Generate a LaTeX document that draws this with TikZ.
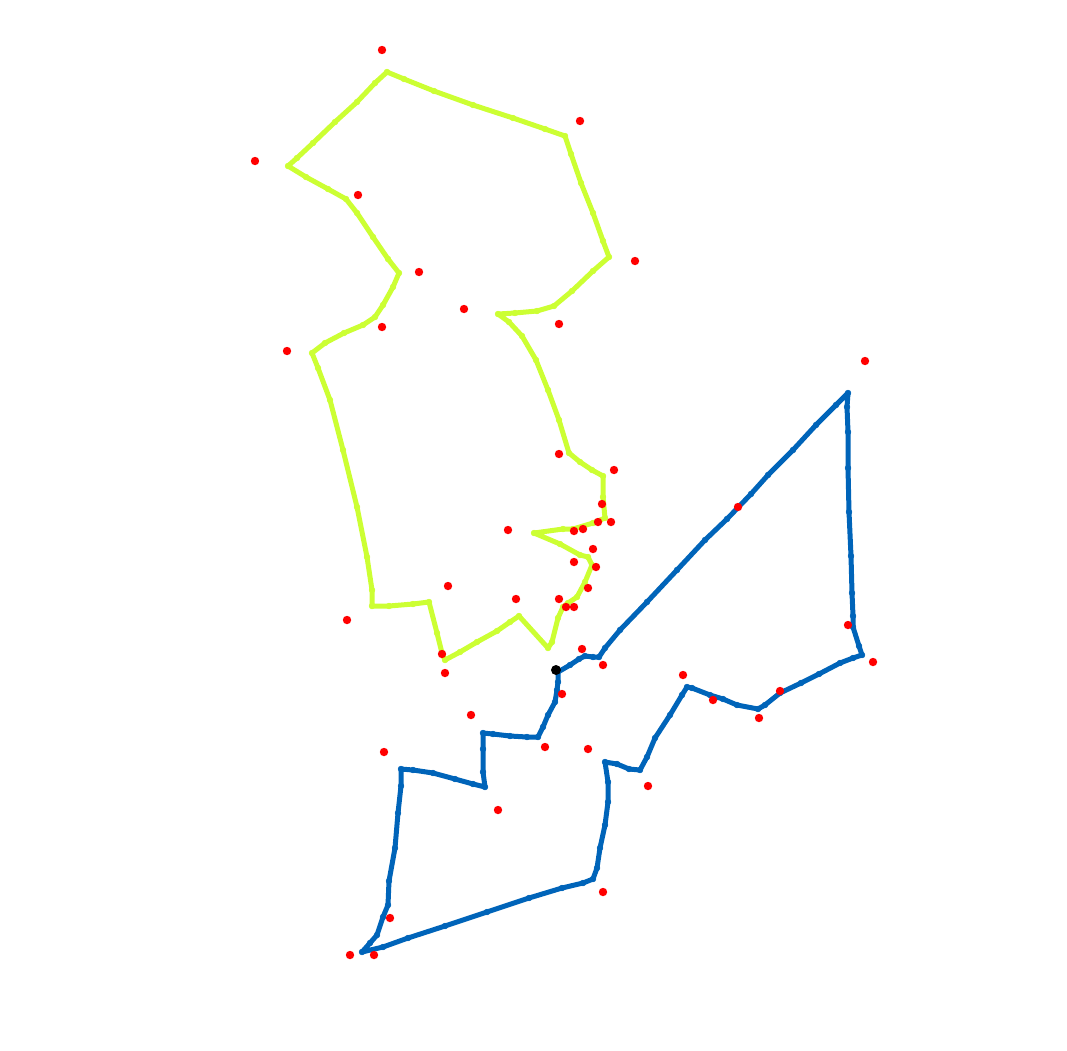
\documentclass[tikz,border=0pt]{standalone}
\definecolor{limeg}{RGB}{204,255,51}
\definecolor{routeb}{RGB}{0,100,185}
\definecolor{ptred}{RGB}{255,0,0}
\tikzset{
  greenpath/.style={draw=limeg,line width=5pt,line join=round,line cap=round},
  bluepath/.style={draw=routeb,line width=5pt,line join=round,line cap=round},
  greenmarks/.style={only marks,mark=*,mark size=3pt,mark options={fill=limeg,draw=limeg,line width=0.3pt}},
  bluemarks/.style={only marks,mark=*,mark size=3pt,mark options={fill=routeb,draw=routeb,line width=0.3pt}},
  reddot/.style={fill=ptred},
}
\begin{document}
\begin{tikzpicture}[x=1pt,y=-1pt]
\useasboundingbox (0,0) rectangle (1067,1050);
% green route
\draw[greenpath] plot coordinates {(387,72) (404,79) (434,91) (473,105) (513,118) (545,129) (565,136) (571,154) (581,183) (593,213) (603,241) (609,257) (593,271) (572,291) (554,306) (537,311) (515,313) (498,314) (509,322) (522,336) (536,360) (548,390) (559,420) (569,453) (580,462) (592,470) (603,476) (603,497) (605,518) (593,523) (573,529) (563,529) (534,533) (560,544) (580,555) (588,557) (592,565) (585,582) (577,597) (568,603) (563,607) (558,618) (552,642) (548,648) (519,616) (510,622) (497,631) (477,642) (460,652) (445,660) (442,653) (437,633) (429,602) (413,604) (389,606) (372,606) (372,590) (367,557) (357,507) (343,450) (330,400) (318,368) (312,353) (325,343) (344,333) (363,325) (375,317) (383,305) (393,287) (399,273) (388,259) (373,237) (357,213) (346,199) (328,189) (306,177) (288,166) (297,158) (313,143) (335,122) (357,102) (375,83) (387,72)};
\path plot[greenmarks] coordinates {(387,72) (404,79) (434,91) (473,105) (513,118) (545,129) (565,136) (571,154) (581,183) (593,213) (603,241) (609,257) (593,271) (572,291) (554,306) (537,311) (515,313) (498,314) (509,322) (522,336) (536,360) (548,390) (559,420) (569,453) (580,462) (592,470) (603,476) (603,497) (605,518) (593,523) (573,529) (563,529) (534,533) (560,544) (580,555) (588,557) (592,565) (585,582) (577,597) (568,603) (563,607) (558,618) (552,642) (548,648) (519,616) (510,622) (497,631) (477,642) (460,652) (445,660) (442,653) (437,633) (429,602) (413,604) (389,606) (372,606) (372,590) (367,557) (357,507) (343,450) (330,400) (318,368) (312,353) (325,343) (344,333) (363,325) (375,317) (383,305) (393,287) (399,273) (388,259) (373,237) (357,213) (346,199) (328,189) (306,177) (288,166) (297,158) (313,143) (335,122) (357,102) (375,83)};
% blue route
\draw[bluepath] plot coordinates {(558,672) (570,665) (579,659) (585,656) (593,657) (599,657) (605,648) (620,630) (647,602) (677,570) (705,540) (727,519) (751,494) (768,475) (793,450) (816,425) (836,405) (848,393) (847,407) (848,432) (848,468) (849,512) (851,556) (852,593) (853,616) (853,627) (859,646) (862,655) (853,658) (840,663) (819,674) (801,683) (780,693) (765,705) (758,709) (737,705) (723,699) (710,695) (692,688) (687,687) (682,695) (670,715) (655,738) (647,757) (640,770) (629,769) (617,764) (605,762) (608,782) (608,802) (605,825) (600,848) (597,868) (593,879) (583,883) (562,888) (529,898) (487,912) (445,926) (408,938) (383,947) (362,952) (370,943) (377,935) (383,917) (388,905) (389,881) (395,848) (398,813) (401,786) (401,769) (413,770) (433,773) (455,779) (473,784) (485,787) (483,772) (483,749) (483,733) (493,734) (510,736) (527,737) (538,737) (543,727) (548,715) (555,702) (557,690) (558,682) (558,672)};
\path plot[bluemarks] coordinates {(570,665) (579,659) (585,656) (593,657) (599,657) (605,648) (620,630) (647,602) (677,570) (705,540) (727,519) (751,494) (768,475) (793,450) (816,425) (836,405) (848,393) (847,407) (848,432) (848,468) (849,512) (851,556) (852,593) (853,616) (853,627) (859,646) (862,655) (853,658) (840,663) (819,674) (801,683) (780,693) (765,705) (758,709) (737,705) (723,699) (710,695) (692,688) (687,687) (682,695) (670,715) (655,738) (647,757) (640,770) (629,769) (617,764) (605,762) (608,782) (608,802) (605,825) (600,848) (597,868) (593,879) (583,883) (562,888) (529,898) (487,912) (445,926) (408,938) (383,947) (362,952) (370,943) (377,935) (383,917) (388,905) (389,881) (395,848) (398,813) (401,786) (401,769) (413,770) (433,773) (455,779) (473,784) (485,787) (483,772) (483,749) (483,733) (493,734) (510,736) (527,737) (538,737) (543,727) (548,715) (555,702) (557,690) (558,682)};
% red points
\foreach \p in {(382,50),(580,121),(255,161),(358,195),(635,261),(419,272),(464,309),(559,324),(382,327),(287,351),(865,361),(559,454),(614,470),(602,504),(611,522),(598,522),(583,529),(574,531),(508,530),(593,549),(574,562),(596,567),(448,586),(588,588),(516,599),(559,599),(566,607),(574,607),(347,620),(848,625),(582,649),(442,654),(445,673),(603,665),(873,662),(683,675),(562,694),(780,691),(713,700),(759,718),(471,715),(545,747),(588,749),(384,752),(648,786),(498,810),(603,892),(390,918),(350,955),(374,955),(738,507)}
  \fill[reddot] \p circle (4.2);
% start point
\fill[black] (556,670) circle (5);
\end{tikzpicture}
\end{document}
